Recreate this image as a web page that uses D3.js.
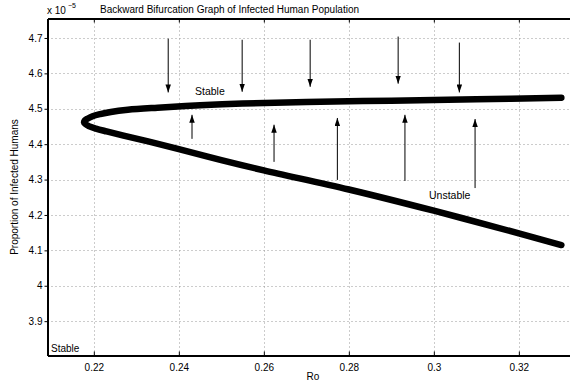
<!DOCTYPE html>
<html><head><meta charset="utf-8">
<script src="https://cdn.jsdelivr.net/npm/d3@7"></script>
<style>body{margin:0;background:#fff}svg{display:block}text{font-family:"Liberation Sans",Arial,Helvetica,sans-serif;fill:#000}</style>
</head><body><div id="chart"></div>
<script>
const xTicks = [0.22, 0.24, 0.26, 0.28, 0.30, 0.32];
const xTickLabels = ["0.22", "0.24", "0.26", "0.28", "0.3", "0.32"];
const yTicks = [3.9, 4.0, 4.1, 4.2, 4.3, 4.4, 4.5, 4.6, 4.7];
const yTickLabels = ["3.9", "4", "4.1", "4.2", "4.3", "4.4", "4.5", "4.6", "4.7"];

// upper (stable) branch, from right end to the fold
const upperR0 = [0.330, 0.310, 0.290, 0.270, 0.255, 0.245, 0.235, 0.228, 0.224, 0.2215, 0.2197, 0.2185, 0.2179, 0.2177];
const upperI  = [4.531, 4.527, 4.523, 4.519, 4.515, 4.510, 4.503, 4.497, 4.491, 4.485, 4.479, 4.472, 4.467, 4.462];
// lower (unstable) branch, from the fold to right end
const lowerR0 = [0.2180, 0.2188, 0.2205, 0.2230, 0.2270, 0.2330, 0.2400, 0.2500, 0.2600, 0.2800, 0.3000, 0.3200, 0.3300];
const lowerI  = [4.457, 4.451, 4.444, 4.436, 4.424, 4.407, 4.386, 4.355, 4.326, 4.272, 4.212, 4.148, 4.115];

// arrows (units of 1e-5)
const downR0   = [0.2375, 0.2549, 0.2709, 0.2916, 0.3060];
const downFrom = [4.698, 4.695, 4.695, 4.704, 4.687];
const downTo   = [4.546, 4.548, 4.562, 4.571, 4.546];
const upR0   = [0.2431, 0.2624, 0.2773, 0.2932, 0.3097];
const upFrom = [4.415, 4.350, 4.299, 4.296, 4.276];
const upTo   = [4.483, 4.455, 4.474, 4.483, 4.471];

const W = 570, H = 386;
const mLeft = 47.5, mTop = 18.5, mBottom = 355.5;
const x = d3.scaleLinear().domain([0.2091, 0.335]).range([mLeft, 582.6]);
const y = d3.scaleLinear().domain([3.803, 4.755]).range([mBottom, mTop]);
const mRight = x(0.335);

const svg = d3.select("#chart").append("svg").attr("width", W).attr("height", H);
svg.append("defs").append("marker")
  .attr("id", "ah").attr("viewBox", "0 0 6 6").attr("refX", 6).attr("refY", 3)
  .attr("markerUnits", "userSpaceOnUse").attr("markerWidth", 8).attr("markerHeight", 5.5)
  .attr("orient", "auto").attr("preserveAspectRatio", "none")
  .append("path").attr("d", "M0,0 L6,3 L0,6 Z").attr("fill", "#000");

// grid
const grid = svg.append("g").attr("stroke", "#999").attr("stroke-width", 1).attr("stroke-dasharray", "1,3");
grid.selectAll("line.gx").data(xTicks).join("line").attr("class", "gx")
  .attr("x1", d => Math.round(x(d)) + 0.5).attr("x2", d => Math.round(x(d)) + 0.5)
  .attr("y1", mTop).attr("y2", mBottom);
grid.selectAll("line.gy").data(yTicks).join("line").attr("class", "gy")
  .attr("y1", d => Math.round(y(d)) + 0.5).attr("y2", d => Math.round(y(d)) + 0.5)
  .attr("x1", mLeft).attr("x2", mRight);

// axes
const xAxis = d3.axisBottom(x).tickValues(xTicks).tickFormat((d, i) => xTickLabels[i]).tickSizeInner(-4).tickSizeOuter(0).tickPadding(8);
const gx = svg.append("g").attr("transform", `translate(0,${mBottom})`).call(xAxis);
const yAxis = d3.axisLeft(y).tickValues(yTicks).tickFormat((d, i) => yTickLabels[i]).tickSizeInner(3).tickSizeOuter(0).tickPadding(2);
const gy = svg.append("g").attr("transform", `translate(${mLeft},0)`).call(yAxis);
const xTopAxis = d3.axisTop(x).tickValues(xTicks).tickFormat("").tickSizeInner(-4).tickSizeOuter(0);
const gxt = svg.append("g").attr("transform", `translate(0,${mTop})`).call(xTopAxis);
[gx, gy, gxt].forEach(g => {
  g.select(".domain").attr("stroke", "#000").attr("stroke-width", 2);
  g.selectAll(".tick line").attr("stroke", "#000").attr("stroke-width", 1);
  g.selectAll("text").attr("font-size", 10).attr("font-family", "Liberation Sans, Arial, sans-serif");
});

// curve
const pts = upperR0.map((r, i) => [r, upperI[i]]).concat(lowerR0.map((r, i) => [r, lowerI[i]]));
const line = d3.line().x(d => x(d[0])).y(d => y(d[1])).curve(d3.curveCatmullRom.alpha(0.5));
svg.append("path").datum(pts).attr("d", line).attr("fill", "none").attr("stroke", "#000")
  .attr("stroke-width", 6.5).attr("stroke-linecap", "round").attr("stroke-linejoin", "round");

// arrows
svg.append("g").selectAll("line").data(downR0).join("line")
  .attr("x1", d => x(d)).attr("x2", d => x(d))
  .attr("y1", (d, i) => y(downFrom[i])).attr("y2", (d, i) => y(downTo[i]))
  .attr("stroke", "#000").attr("stroke-width", 1).attr("marker-end", "url(#ah)");
svg.append("g").selectAll("line").data(upR0).join("line")
  .attr("x1", d => x(d)).attr("x2", d => x(d))
  .attr("y1", (d, i) => y(upFrom[i])).attr("y2", (d, i) => y(upTo[i]))
  .attr("stroke", "#000").attr("stroke-width", 1).attr("marker-end", "url(#ah)");

// labels
svg.append("text").attr("x", 195).attr("y", 95).attr("font-size", 10.5).text("Stable");
svg.append("text").attr("x", 429).attr("y", 199).attr("font-size", 10.5).text("Unstable");
svg.append("text").attr("x", 51).attr("y", 352).attr("font-size", 10).text("Stable");
svg.append("text").attr("x", 100).attr("y", 13).attr("font-size", 10).text("Backward Bifurcation Graph of Infected Human Population");
svg.append("text").attr("x", 47).attr("y", 14).attr("font-size", 10).text("x 10");
svg.append("text").attr("x", 68).attr("y", 8).attr("font-size", 7).text("−5");
svg.append("text").attr("x", 313).attr("y", 380).attr("font-size", 10).attr("text-anchor", "middle").text("Ro");
svg.append("text").attr("transform", "translate(18,187) rotate(-90)").attr("font-size", 10)
  .attr("text-anchor", "middle").text("Proportion of Infected Humans");
</script></body></html>
